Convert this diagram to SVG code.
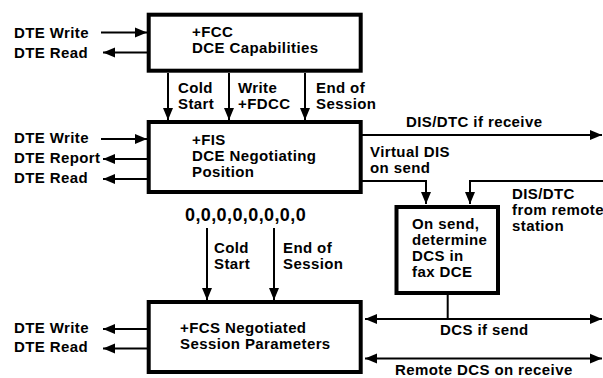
<svg xmlns="http://www.w3.org/2000/svg" width="603" height="378" viewBox="0 0 603 378">
<style>
text{font-family:"Liberation Sans",Arial,sans-serif;font-weight:bold;font-size:15px;letter-spacing:0.4px;fill:#000}
.box{fill:#fff;stroke:#000;stroke-width:4}
.c{fill:none;stroke:#000;stroke-width:2}
.z{font-size:18px}
</style>
<defs>
<marker id="ah" markerWidth="13" markerHeight="11" refX="12" refY="5.5" orient="auto-start-reverse" markerUnits="userSpaceOnUse">
<path d="M0,0.5 L12,5.5 L0,10.5 z" fill="#000"/>
</marker>
</defs>
<rect width="603" height="378" fill="#fff"/>
<g id="connectors">
<path class="c" d="M101,32.5 H147" marker-end="url(#ah)"/>
<path class="c" d="M147,52.5 H103" marker-end="url(#ah)"/>
<path class="c" d="M168,73 V120" marker-end="url(#ah)"/>
<path class="c" d="M229,73 V120" marker-end="url(#ah)"/>
<path class="c" d="M305,73 V120" marker-end="url(#ah)"/>
<path class="c" d="M101,139 H147" marker-end="url(#ah)"/>
<path class="c" d="M147,159 H103" marker-end="url(#ah)"/>
<path class="c" d="M147,179 H103" marker-end="url(#ah)"/>
<path class="c" d="M362,135 H602" marker-end="url(#ah)"/>
<path class="c" d="M362,181 H426 V204" marker-end="url(#ah)"/>
<path class="c" d="M603,181 H470 V204" marker-end="url(#ah)"/>
<path class="c" d="M207,228 V300" marker-end="url(#ah)"/>
<path class="c" d="M274,228 V300" marker-end="url(#ah)"/>
<path class="c" d="M147,329 H103" marker-end="url(#ah)"/>
<path class="c" d="M147,348.5 H103" marker-end="url(#ah)"/>
<path class="c" d="M447.7,295 V319"/>
<path class="c" d="M365,319 H602" marker-start="url(#ah)" marker-end="url(#ah)"/>
<path class="c" d="M365,358.5 H602" marker-start="url(#ah)" marker-end="url(#ah)"/>
</g>
<g id="labels">
<text x="14" y="37.5">DTE Write</text>
<text x="14" y="57.5">DTE Read</text>
<text x="178" y="93">Cold</text>
<text x="178" y="109">Start</text>
<text x="238" y="93">Write</text>
<text x="238" y="109">+FDCC</text>
<text x="316" y="93">End of</text>
<text x="316" y="109">Session</text>
<text x="14" y="143">DTE Write</text>
<text x="14" y="163">DTE Report</text>
<text x="14" y="183">DTE Read</text>
<text x="406" y="127">DIS/DTC if receive</text>
<text x="370" y="157">Virtual DIS</text>
<text x="370" y="173">on send</text>
<text x="512" y="198.5">DIS/DTC</text>
<text x="512" y="214.5">from remote</text>
<text x="512" y="230.5">station</text>
<text class="z" x="185" y="221">0,0,0,0,0,0,0,0</text>
<text x="214" y="252.5">Cold</text>
<text x="214" y="268.5">Start</text>
<text x="283" y="252.5">End of</text>
<text x="283" y="268.5">Session</text>
<text x="14" y="333">DTE Write</text>
<text x="14" y="352">DTE Read</text>
<text x="440" y="335">DCS if send</text>
<text x="395" y="375">Remote DCS on receive</text>
</g>
<g id="fcc">
<rect class="box" x="148.7" y="14.7" width="212" height="56"/>
<text x="192" y="37">+FCC</text>
<text x="192" y="53">DCE Capabilities</text>
</g>
<g id="fis">
<rect class="box" x="148.7" y="122" width="212" height="70"/>
<text x="192" y="145">+FIS</text>
<text x="192" y="161">DCE Negotiating</text>
<text x="192" y="177">Position</text>
</g>
<g id="fcs">
<rect class="box" x="148.7" y="302" width="212" height="70"/>
<text x="180" y="333">+FCS Negotiated</text>
<text x="180" y="349">Session Parameters</text>
</g>
<g id="dcs">
<rect class="box" x="396.5" y="207" width="101.5" height="86"/>
<text x="412" y="229">On send,</text>
<text x="412" y="245">determine</text>
<text x="412" y="261">DCS in</text>
<text x="412" y="277">fax DCE</text>
</g>
</svg>
